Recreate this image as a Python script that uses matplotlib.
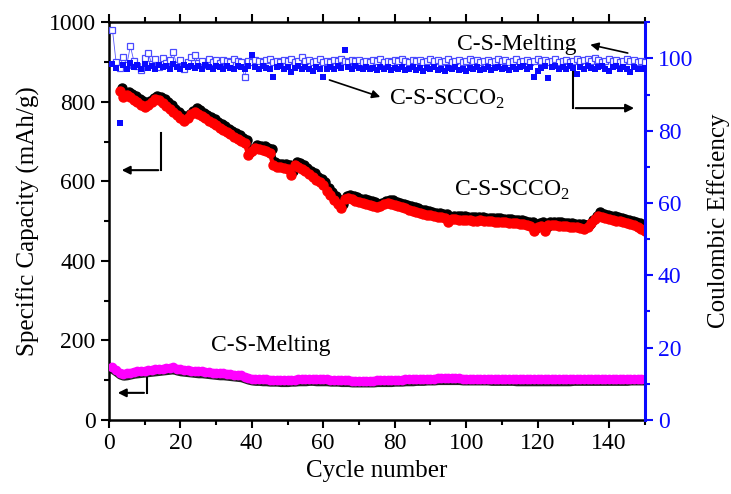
import matplotlib

matplotlib.use("Agg")
import matplotlib.pyplot as plt
import matplotlib.transforms as mtransforms
import numpy as np

# --- Data -------------------------------------------------------------------

cycles = np.arange(1, 151)

cap_scco2 = [
    np.nan, np.nan, 826, 812, 816, 811, 805, 799, 792, 786,
    792, 800, 806, 804, 798, 790, 782, 774, 766, 758,
    751, 760, 768, 775, 770, 764, 758, 752, 747, 741,
    735, 730, 724, 718, 712, 707, 701, 696, 666, 676,
    683, 681, 679, 676, 672, 640, 636, 635, 634, 632,
    617, 641, 637, 631, 625, 618, 611, 603, 597, 590,
    575, 565, 554, 543, 534, 555, 558, 555, 551, 548,
    546, 543, 541, 539, 535, 537, 542, 545, 543, 540,
    537, 535, 532, 529, 526, 523, 520, 518, 516, 514,
    512, 511, 509, 508, 497, 505, 504, 503, 503, 502,
    502, 501, 501, 502, 500, 499, 499, 498, 498, 497,
    497, 496, 495, 494, 493, 492, 490, 488, 474, 486,
    488, 476, 489, 490, 489, 488, 487, 487, 486, 485,
    484, 483, 481, 485, 495, 505, 513, 510, 507, 505,
    503, 501, 499, 497, 495, 492, 489, 486, 480, 474,
]

cap_melting = [
    132, 126, 119, 116, 117, 119, 121, 122, 123, 124,
    125, 126, 127, 128, 129, 130, 131, 132, 129, 127,
    126, 125, 124, 123, 122, 122, 121, 120, 119, 118,
    117, 117, 116, 115, 114, 113, 112, 109, 106, 104,
    103, 103, 102, 102, 101, 101, 101, 100, 100, 100,
    101, 101, 102, 102, 102, 103, 103, 102, 102, 102,
    102, 101, 101, 101, 100, 100, 100, 99, 99, 99,
    99, 99, 99, 99, 100, 100, 100, 100, 100, 101,
    101, 101, 102, 102, 102, 103, 103, 103, 104, 104,
    104, 105, 105, 105, 105, 105, 105, 105, 104, 104,
    104, 104, 104, 104, 104, 104, 103, 103, 103, 103,
    103, 103, 103, 102, 102, 102, 102, 102, 102, 102,
    102, 102, 102, 102, 102, 102, 102, 102, 102, 103,
    103, 103, 103, 103, 103, 103, 103, 103, 103, 103,
    103, 103, 103, 103, 103, 104, 104, 104, 104, 104,
]

ce_scco2 = [
    98.5, 97.4, 82.0, 98.2, 97.0, 98.6, 97.6, 98.2, 97.2, 98.4,
    97.4, 98.0, 97.2, 98.3, 97.5, 98.0, 97.2, 98.4, 97.6, 97.0,
    98.2, 97.5, 98.0, 97.3, 97.8, 97.0, 98.1, 97.5, 97.2, 98.0,
    97.5, 97.0, 97.8, 97.4, 97.0, 97.8, 97.5, 97.2, 97.8, 100.8,
    97.6, 97.2, 97.8, 97.4, 97.0, 94.8, 97.5, 97.8, 97.2, 97.6,
    96.2, 97.4, 97.8, 97.2, 97.6, 97.0, 96.6, 97.6, 97.2, 94.8,
    97.0, 97.6, 97.2, 97.8, 97.4, 102.3, 97.6, 97.2, 97.8, 97.4,
    97.2, 97.6, 97.0, 97.4, 96.8, 97.5, 97.1, 97.6, 96.9, 97.3,
    97.0, 97.5, 96.7, 97.2, 97.6, 96.9, 97.3, 96.6, 97.4, 97.0,
    97.5, 96.8, 97.2, 96.6, 97.4, 97.0, 97.5, 96.8, 97.2, 96.6,
    97.3, 97.0, 97.6, 96.8, 97.2, 97.5, 96.9, 97.3, 97.7, 97.0,
    97.4, 96.9, 97.6, 97.1, 97.5, 97.9, 97.2, 97.6, 94.8, 96.5,
    97.4, 97.8, 94.5, 97.5, 97.9, 97.2, 97.6, 97.0, 97.8, 97.3,
    95.8, 97.6, 97.2, 97.8, 97.4, 97.0, 97.6, 97.9, 97.2, 96.6,
    97.5, 97.8, 97.2, 97.6, 97.0, 96.2, 97.6, 97.2, 97.0, 97.4,
]

ce_melting = [
    107.8, 99.0, 97.3, 100.5, 98.2, 103.4, 99.2, 98.0, 96.7, 100.2,
    101.4, 98.5, 99.8, 97.6, 100.0, 98.8, 99.5, 101.7, 98.2, 99.6,
    97.2, 99.0, 100.3, 100.9, 98.6, 99.4, 98.2, 99.7, 99.0, 99.5,
    98.8, 99.6, 99.2, 98.9, 99.7, 99.3, 99.0, 94.8, 99.4, 99.1,
    99.6, 99.2, 98.9, 99.5, 99.8, 99.1, 99.4, 99.0, 99.6, 99.3,
    99.7, 99.0, 99.4, 100.3, 99.2, 99.5, 98.9, 99.3, 99.7, 99.1,
    99.4, 99.0, 99.6, 99.2, 99.8, 99.3, 99.0, 99.5, 99.2, 99.6,
    99.1, 99.4, 99.0, 99.6, 99.3, 99.7, 99.1, 99.4, 99.0, 99.5,
    99.2, 99.7, 99.3, 99.0, 99.6, 99.2, 99.5, 99.1, 99.4, 99.8,
    99.2, 99.5, 99.0, 99.4, 99.7, 99.1, 99.3, 99.6, 99.0, 99.4,
    99.7, 99.2, 99.5, 99.0, 99.3, 99.6, 99.1, 99.4, 99.8, 99.2,
    99.5, 99.0, 99.3, 99.7, 99.1, 99.4, 99.6, 99.0, 99.3, 99.7,
    99.2, 99.5, 99.0, 99.4, 99.8, 99.1, 99.3, 99.6, 99.0, 99.4,
    99.7, 99.2, 99.5, 99.9, 99.3, 100.2, 99.6, 99.1, 99.4, 99.8,
    99.3, 99.6, 99.0, 99.4, 99.7, 99.2, 99.5, 99.1, 99.4, 99.0,
]

# --- Style --------------------------------------------------------------------

plt.rcParams["font.family"] = ["Liberation Serif", "DejaVu Serif"]
plt.rcParams["mathtext.fontset"] = "custom"
plt.rcParams["mathtext.rm"] = "Liberation Serif"
plt.rcParams["font.size"] = 17

BLUE = "#0a0aff"

fig = plt.figure(figsize=(7.31, 4.94), dpi=100)
ax = fig.add_axes([0.149, 0.150, 0.733, 0.805])
ax2 = ax.twinx()

# capacity: red / magenta bands with a dark shadow
shadow_up = mtransforms.offset_copy(ax.transData, fig=fig, x=1.5, y=2.5, units="points")
shadow_dn = mtransforms.offset_copy(ax.transData, fig=fig, x=0.5, y=-2.0, units="points")
ax.plot(cycles, cap_scco2, "o-", color="black", ms=6.5, lw=3, transform=shadow_up, zorder=2)
ax.plot(cycles, cap_scco2, "o-", color="#ff0000", ms=6.5, lw=3, zorder=3)
ax.plot(cycles, cap_melting, "-", color="#222222", lw=6, transform=shadow_dn, zorder=2)
ax.plot(cycles, cap_melting, "o-", color="#ff00ff", ms=6, lw=5, zorder=3)

# coulombic efficiency
ax2.plot(cycles, ce_melting, "s-", color="#5a5aff", mfc="white", mec="#4a4aff",
         ms=5, mew=0.9, lw=0.6, zorder=3)
ax2.plot(cycles, ce_scco2, "s", color=BLUE, ms=4.5, mew=0, zorder=4)

# --- Axes ---------------------------------------------------------------------

ax.set_xlim(0, 150)
ax.set_ylim(0, 1000)
ax2.set_ylim(0, 110)

ax.set_xticks(np.arange(0, 150, 20))
ax.set_xticks(np.arange(0, 151, 10), minor=True)
ax.set_yticks(np.arange(0, 1001, 200))
ax.set_yticks(np.arange(0, 1001, 100), minor=True)
ax2.set_yticks(np.arange(0, 101, 20))
ax2.set_yticks(np.arange(0, 111, 10), minor=True)

ax.tick_params(axis="x", which="both", direction="out", top=True, width=1.5, labelsize=17)
ax.tick_params(axis="x", which="major", length=6)
ax.tick_params(axis="x", which="minor", length=3.5)
ax.tick_params(axis="y", which="major", direction="out", length=6, width=1.5, labelsize=17)
ax.tick_params(axis="y", which="minor", direction="out", length=3.5, width=1.5)
ax2.tick_params(axis="y", which="both", colors=BLUE, width=1.5, labelsize=17)
ax2.tick_params(axis="y", which="major", length=6)
ax2.tick_params(axis="y", which="minor", length=3.5)
for lab in ax2.get_yticklabels():
    lab.set_color(BLUE)

for side in ("left", "bottom", "top"):
    ax.spines[side].set_linewidth(1.8)
ax2.spines["right"].set_color(BLUE)
ax2.spines["right"].set_linewidth(2.2)
ax.spines["right"].set_visible(False)
for side in ("left", "bottom", "top"):
    ax2.spines[side].set_visible(False)

ax.set_xlabel("Cycle number", fontsize=18, labelpad=4)
ax.set_ylabel("Specific Capacity (mAh/g)", fontsize=18, labelpad=6)
ax2.set_ylabel("Coulombic Effciency", fontsize=18, labelpad=10)

# --- Annotations --------------------------------------------------------------

ax.text(45.3, 188, "C-S-Melting", ha="center", va="center", fontsize=17)
ax.text(112.8, 578, r"C-S-SCCO$_\mathrm{2}$", ha="center", va="center", fontsize=17)
ax.text(114.2, 944, "C-S-Melting", ha="center", va="center", fontsize=17, zorder=6)
ax.text(78.5, 806, r"C-S-SCCO$_\mathrm{2}$", ha="left", va="center", fontsize=17)

arrow = dict(arrowstyle="-|>", color="black", lw=1.2, mutation_scale=12)
ax.annotate("", xy=(134, 945), xytext=(146, 921), arrowprops=arrow, zorder=6)
ax.annotate("", xy=(76.7, 810), xytext=(61, 857), arrowprops=arrow)

# L-shaped axis pointers
ax.plot([14.6, 14.6], [721, 628], color="black", lw=1.5)
ax.annotate("", xy=(2.8, 628), xytext=(14.6, 628), arrowprops=dict(arrow, lw=1.5))
ax.plot([129.9, 129.9], [874, 784], color="black", lw=1.5)
ax.annotate("", xy=(147.8, 784), xytext=(129.9, 784), arrowprops=dict(arrow, lw=1.5))
ax.plot([10.6, 10.6], [105, 68], color="black", lw=1.5)
ax.annotate("", xy=(1.7, 68), xytext=(10.6, 68), arrowprops=dict(arrow, lw=1.5))

fig.savefig("out.png", dpi=100)
